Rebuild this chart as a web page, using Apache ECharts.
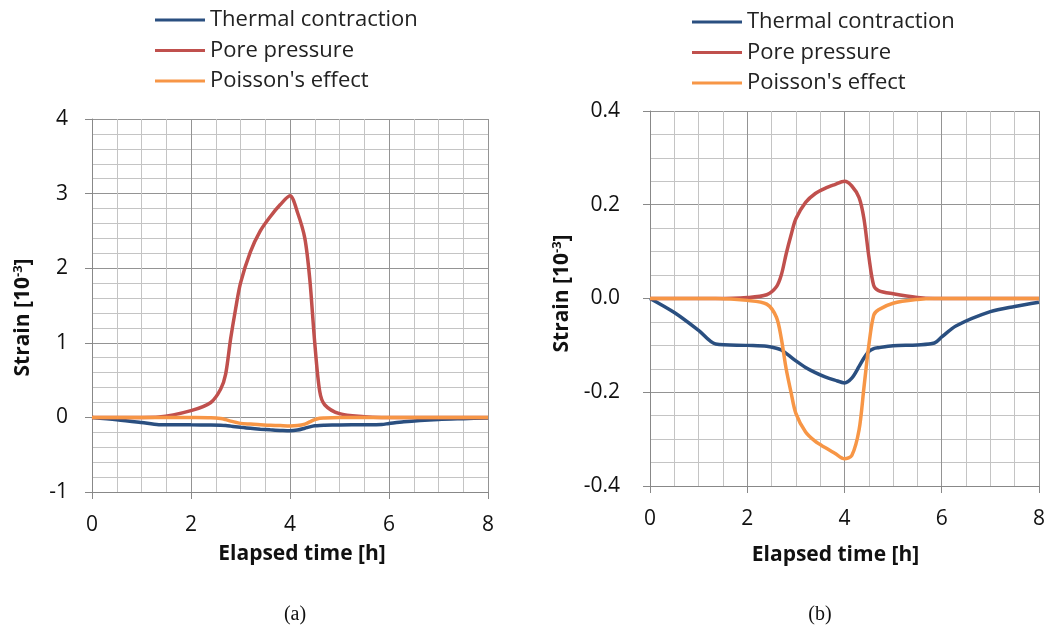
<!DOCTYPE html>
<html>
<head>
<meta charset="utf-8">
<script src="https://cdn.jsdelivr.net/npm/echarts@6/dist/echarts.min.js"></script>
<style>
  html, body { margin: 0; padding: 0; background: #fff; }
  #chart { width: 1048px; height: 627px; }
</style>
</head>
<body>
<div id="chart"></div>
<script>
// elapsed time [h], shared by all series
const times = [0, 0.5, 1.0, 1.35, 2.0, 2.4, 2.6, 2.7, 2.8, 2.9, 3.0, 3.2, 3.4, 3.6, 3.8, 4.0,
  4.15, 4.3, 4.4, 4.5, 4.6, 4.7, 5.0, 5.5, 5.85, 6.0, 6.3, 7.0, 7.5, 8.0];

// strain [10^-3]
const thermal = [0, -0.03, -0.068, -0.097, -0.1, -0.102, -0.106, -0.11, -0.117, -0.125, -0.133, -0.147,
  -0.158, -0.167, -0.174, -0.18, -0.17, -0.145, -0.127, -0.113, -0.107, -0.105, -0.101, -0.099,
  -0.095, -0.082, -0.058, -0.028, -0.017, -0.008];

// (a)
const poreA = [0, 0, 0, 0.005, 0.09, 0.2, 0.38, 0.58, 1.05, 1.45, 1.8, 2.22, 2.5, 2.69, 2.85, 2.97,
  2.75, 2.4, 1.85, 1.0, 0.35, 0.17, 0.05, 0.01, 0, 0, 0, 0, 0, 0];
const poissonA = [0, 0, 0, 0, -0.002, -0.005, -0.015, -0.03, -0.05, -0.065, -0.08, -0.09, -0.1, -0.105,
  -0.11, -0.115, -0.11, -0.09, -0.06, -0.03, -0.01, -0.007, -0.003, 0, 0, 0, 0, 0, 0, 0];

// (b)
const poreB = [0, 0, 0, 0, 0.002, 0.008, 0.025, 0.05, 0.095, 0.135, 0.17, 0.205, 0.224, 0.235, 0.243, 0.25,
  0.24, 0.215, 0.17, 0.09, 0.028, 0.017, 0.01, 0.002, 0, 0, 0, 0, 0, 0];
const poissonB = [0, 0, 0, 0, -0.004, -0.012, -0.04, -0.085, -0.15, -0.2, -0.245, -0.285, -0.305, -0.318,
  -0.33, -0.342, -0.335, -0.28, -0.19, -0.1, -0.036, -0.024, -0.01, -0.002, 0, 0, 0, 0, 0, 0];

const names = ['Thermal contraction', 'Pore pressure', "Poisson's effect"];
const colors = ['#2A4F80', '#C0504D', '#F79646'];

const pairs = vals => times.map((t, i) => [t, vals[i]]);

const chart = echarts.init(document.getElementById('chart'));

const font = 'Open Sans, Noto Sans, sans-serif';

function xAxisFor(gridIndex, nameGap, namePad) {
  return {
    type: 'value', gridIndex, min: 0, max: 8, interval: 2,
    name: 'Elapsed time [h]', nameLocation: 'middle', nameGap,
    nameTextStyle: { fontFamily: font, fontSize: 21, fontWeight: 'bold', color: '#111', padding: namePad },
    axisLine: { onZero: false, lineStyle: { color: '#888' } },
    axisTick: { show: true, length: 7, lineStyle: { color: '#888' } },
    axisLabel: { fontFamily: font, fontSize: 21, color: '#111', margin: 23 },
    splitLine: { show: true, lineStyle: { color: '#949494', width: 1 } },
    minorTick: { show: false, splitNumber: 4 },
    minorSplitLine: { show: true, lineStyle: { color: '#c4c4c4', width: 1 } }
  };
}

function yAxisFor(gridIndex, min, max, interval, split, digits, margin, nameGap, namePad) {
  return {
    type: 'value', gridIndex, min, max, interval,
    name: 'Strain [10{sup|-3}]', nameLocation: 'middle', nameRotate: 90, nameGap,
    nameTextStyle: {
      fontFamily: font, fontSize: 21, fontWeight: 'bold', color: '#111', padding: namePad,
      rich: { sup: { fontFamily: font, fontSize: 13, fontWeight: 'bold', color: '#111', verticalAlign: 'top', padding: [0, 0, 9, 0] } }
    },
    axisLine: { show: true, lineStyle: { color: '#888' } },
    axisTick: { show: true, length: 7, lineStyle: { color: '#888' } },
    axisLabel: { fontFamily: font, fontSize: 21, color: '#111', margin,
      formatter: v => v.toFixed(digits) },
    splitLine: { show: true, lineStyle: { color: '#949494', width: 1 } },
    minorTick: { show: false, splitNumber: split },
    minorSplitLine: { show: true, lineStyle: { color: '#c4c4c4', width: 1 } }
  };
}

function lineSeries(i, vals, axis) {
  return {
    name: names[i], type: 'line', xAxisIndex: axis, yAxisIndex: axis,
    data: pairs(vals), smooth: 0.3, showSymbol: false, symbol: 'none',
    lineStyle: { color: colors[i], width: 3.5 }, itemStyle: { color: colors[i] },
    z: i === 2 ? 4 : 3
  };
}

const legendBase = {
  orient: 'vertical', itemWidth: 50, itemHeight: 3, itemGap: 8.5, icon: 'rect', padding: 0,
  textStyle: { fontFamily: font, fontSize: 22, color: '#222' },
  data: names, selectedMode: false
};

const captionStyle = { fontFamily: 'Liberation Serif, serif', fontSize: 20, fontWeight: 'normal', color: '#111' };

chart.setOption({
  animation: false,
  color: colors,
  title: [
    { text: '(a)', left: 290, top: 600, textAlign: 'center', textStyle: captionStyle },
    { text: '(b)', left: 815, top: 600, textAlign: 'center', textStyle: captionStyle }
  ],
  legend: [
    Object.assign({}, legendBase, { left: 155, top: 9 }),
    Object.assign({}, legendBase, { left: 692, top: 11 })
  ],
  grid: [
    { left: 92, top: 119, width: 396, height: 373 },
    { left: 650, top: 111, width: 392, height: 375 }
  ],
  xAxis: [
    xAxisFor(0, 52, [0, 0, 0, 24]),
    xAxisFor(1, 59, [0, 18, 0, 0])
  ],
  yAxis: [
    yAxisFor(0, -1, 4, 1, 5, 0, 24, 58, [0, 24, 0, 0]),
    yAxisFor(1, -0.4, 0.4, 0.2, 4, 1, 30, 77, [0, 0, 0, 10])
  ],
  series: [
    lineSeries(0, thermal, 0),
    lineSeries(1, poreA, 0),
    lineSeries(2, poissonA, 0),
    lineSeries(0, thermal, 1),
    lineSeries(1, poreB, 1),
    lineSeries(2, poissonB, 1)
  ]
});
</script>
</body>
</html>
